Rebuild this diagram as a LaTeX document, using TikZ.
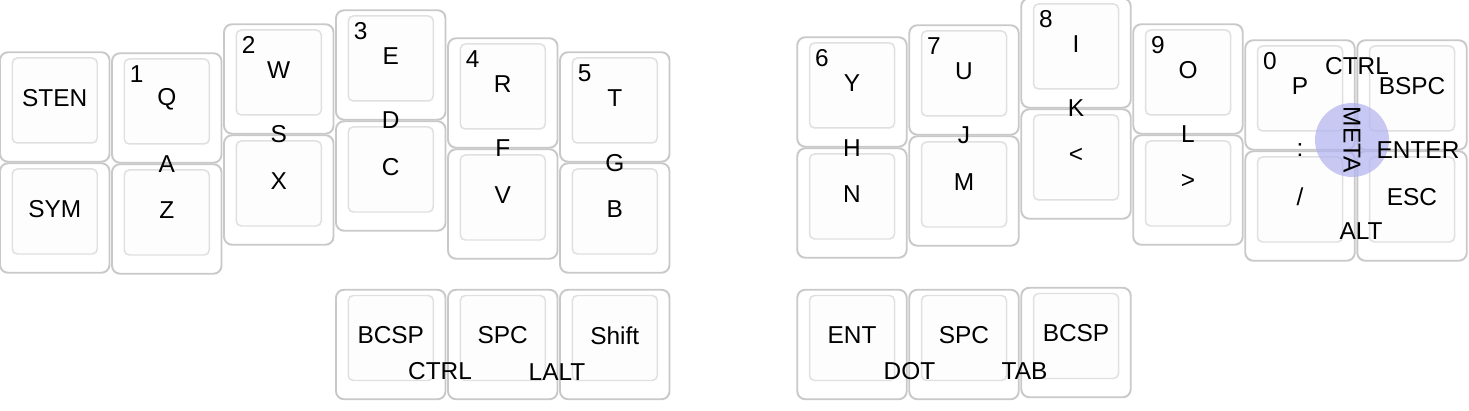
\documentclass[tikz,border=0pt]{standalone}
\usepackage{fontspec}
\setmainfont{Liberation Sans}
\usetikzlibrary{positioning}
\definecolor{keyedge}{RGB}{201,201,201}
\definecolor{keytop}{RGB}{224,224,224}
\definecolor{keyfill}{RGB}{253,253,253}
\definecolor{metablue}{RGB}{178,178,240}

\begin{document}
\begin{tikzpicture}[
    x=0.02cm, y=-0.02cm,
    every node/.style={font=\fontsize{13.9}{16}\selectfont},
    key/.style={draw=keyedge, line width=1.1pt, fill=white, rounded corners=0.16cm, minimum width=2.19cm, minimum height=2.19cm, inner sep=0pt,
        path picture={\draw[keytop, fill=keyfill, line width=0.85pt, rounded corners=0.1cm] ([shift={(-42.5,-49)}]path picture bounding box.center) rectangle ++(85,85);}},
    lbl/.style={yshift=0.18cm, inner sep=0pt},
    num/.style={xshift=-0.6cm, yshift=0.68cm, inner sep=0pt},
    combo/.style={inner sep=0pt}
]
\useasboundingbox (0,0) rectangle (1469,411);

% LEFT HAND
\node[key, label={[lbl]center:STEN}] (sten) at (54.75,107) {};
\node[key, label={[lbl]center:Q}, label={[num]center:1}] (q) at (166.75,108) {};
\node[key, label={[lbl]center:W}, label={[num]center:2}] (w) at (278.75,79) {};
\node[key, label={[lbl]center:E}, label={[num]center:3}] (e) at (390.75,65) {};
\node[key, label={[lbl]center:R}, label={[num]center:4}] (r) at (502.75,93) {};
\node[key, label={[lbl]center:T}, label={[num]center:5}] (t) at (614.75,107) {};
\node[key, label={[lbl]center:SYM}] (sym) at (54.75,218) {};
\node[key, label={[lbl]center:Z}] (z) at (166.75,219) {};
\node[key, label={[lbl]center:X}] (x) at (278.75,190) {};
\node[key, label={[lbl]center:C}] (c) at (390.75,176) {};
\node[key, label={[lbl]center:V}] (v) at (502.75,204) {};
\node[key, label={[lbl]center:B}] (b) at (614.75,218) {};

% LEFT THUMBS
\node[key, label={[lbl]center:BCSP}] (lbcsp) at (390.75,344.5) {};
\node[key, label={[lbl]center:SPC}] (lspc) at (502.75,344.5) {};
\node[key, label={[lbl]center:Shift}] (shift) at (614.75,344.5) {};

% RIGHT HAND
\node[key, label={[lbl]center:Y}, label={[num]center:6}] (y) at (852,92) {};
\node[key, label={[lbl]center:U}, label={[num]center:7}] (u) at (964,80) {};
\node[key, label={[lbl]center:I}, label={[num]center:8}] (i) at (1076,53) {};
\node[key, label={[lbl]center:O}, label={[num]center:9}] (o) at (1188,79) {};
\node[key, label={[lbl]center:P}, label={[num]center:0}] (p) at (1300,95) {};
\node[key, label={[lbl]center:BSPC}] (bspc) at (1412,95) {};
\node[key, label={[lbl]center:N}] (n) at (852,203) {};
\node[key, label={[lbl]center:M}] (m) at (964,191) {};
\node[key, label={[lbl]center:<}] (lt) at (1076,164) {};
\node[key, label={[lbl]center:>}] (gt) at (1188,190) {};
\node[key, label={[lbl]center:/}] (slash) at (1300,206) {};
\node[key, label={[lbl]center:ESC}] (esc) at (1412,206) {};

% RIGHT THUMBS
\node[key, label={[lbl]center:ENT}] (ent) at (852,344.5) {};
\node[key, label={[lbl]center:SPC}] (rspc) at (964,344.5) {};
\node[key, label={[lbl]center:BCSP}] (rbcsp) at (1076,342.5) {};

% COMBOS
\node[circle, fill=metablue, fill opacity=0.7, minimum size=1.48cm, inner sep=0pt] (metadot) at (1352,140) {};
\node[combo, rotate=-90] (meta) at (metadot) {META};

\node[combo] (ca) at (166.75,164) {A};
\node[combo] (cs) at (278.75,134) {S};
\node[combo] (cd) at (390.75,120) {D};
\node[combo] (cf) at (502.75,148) {F};
\node[combo] (cg) at (614.75,163) {G};
\node[combo] (ch) at (852,148) {H};
\node[combo] (cj) at (964,135) {J};
\node[combo] (ck) at (1076,108) {K};
\node[combo] (cl) at (1188,134) {L};
\node[combo] (ccolon) at (1300,150) {:};
\node[combo] (center) at (1418,150) {ENTER};
\node[combo] (cctrl) at (1357,66) {CTRL};
\node[combo] (calt) at (1361,231) {ALT};
\node[combo] (tctrl) at (440,371) {CTRL};
\node[combo] (tlalt) at (557,372) {LALT};
\node[combo] (tdot) at (909.5,371) {DOT};
\node[combo] (ttab) at (1024.5,371) {TAB};

\end{tikzpicture}
\end{document}
